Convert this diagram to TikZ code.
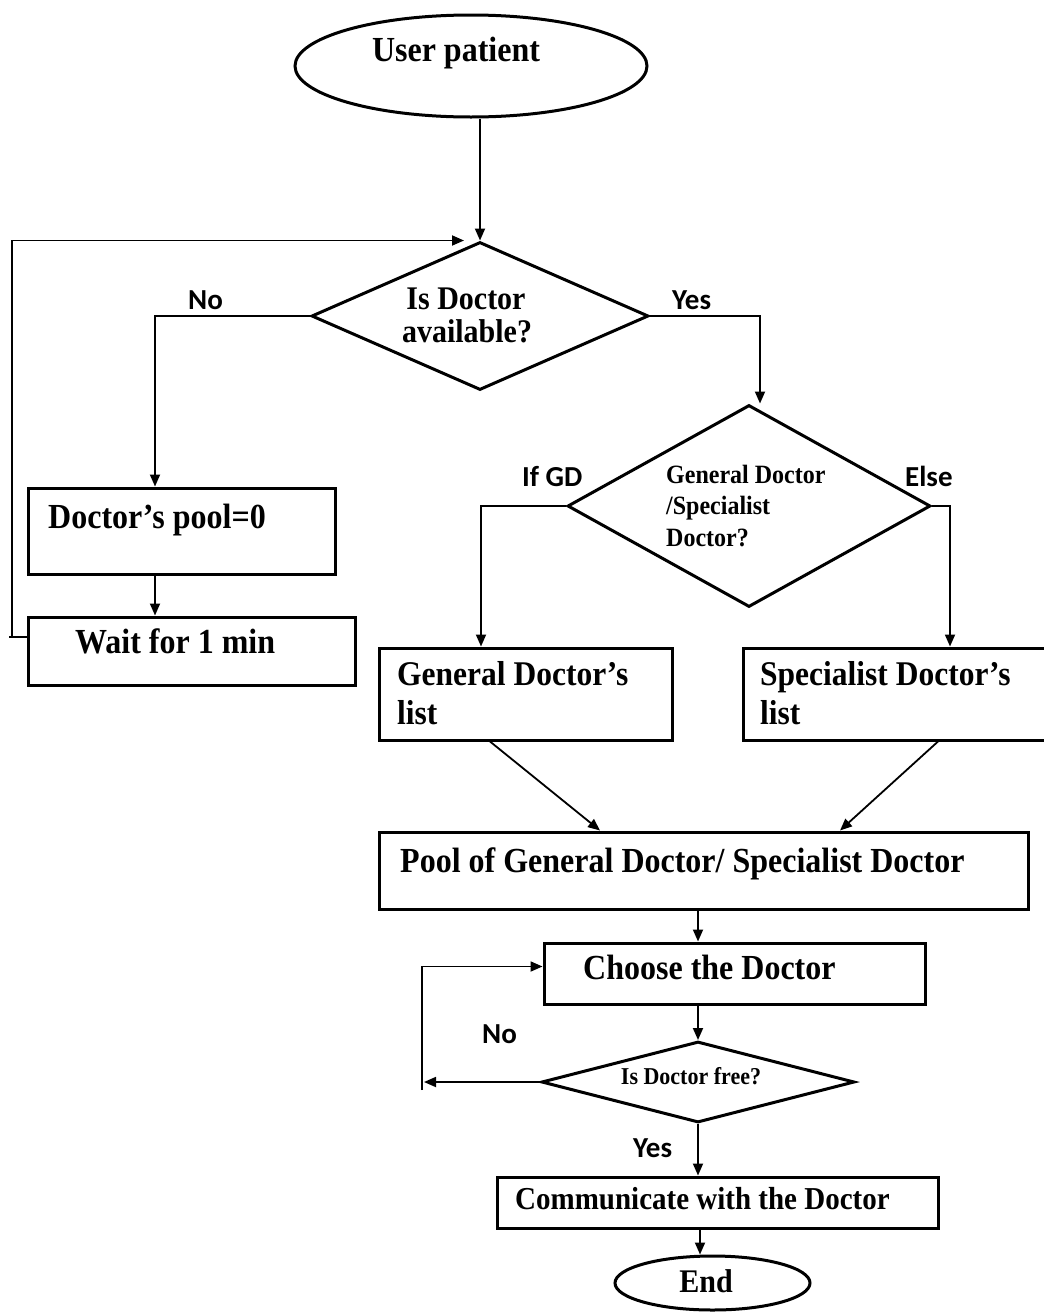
\documentclass[tikz,border=0pt]{standalone}
\usepackage{fontspec}
\usepackage{graphicx}
\setmainfont{Liberation Serif}
\newfontfamily\labfont{Carlito}
\usetikzlibrary{arrows.meta,shapes.geometric}
% the lettering of the chart is set slightly tall
\newcommand{\tall}[1]{\scalebox{1}[1.1]{#1}}

\begin{document}
\begin{tikzpicture}[x=1pt,y=-1pt,
  box/.style={draw,line width=3pt,rectangle,inner sep=0pt},
  dia/.style={draw,line width=3pt,diamond,inner sep=0pt},
  oval/.style={draw,line width=3pt,ellipse,inner sep=0pt},
  conn/.style={line width=1.8pt,-{Triangle[length=12pt,width=10pt]}},
  plain/.style={line width=1.8pt},
  txt/.style={font=\fontsize{32}{36}\selectfont\bfseries,inner sep=0pt,anchor=base west},
  ctxt/.style={txt,anchor=base},
  lab/.style={font=\labfont\fontsize{29}{32}\selectfont\bfseries,inner sep=0pt,anchor=base west}]

\useasboundingbox (0,0) rectangle (1044,1312);

% shapes
\node[oval,minimum width=352pt,minimum height=102pt] (user) at (471,66) {};
\node[dia,minimum width=337pt,minimum height=148pt] (d1) at (480,316) {};
\node[box,minimum width=307pt,minimum height=86pt] (pool0) at (181.5,531) {};
\node[box,minimum width=327pt,minimum height=68pt] (wait) at (191.5,651) {};
\node[dia,minimum width=363pt,minimum height=202pt] (d2) at (749,506) {};
\node[box,minimum width=293pt,minimum height=92pt] (gd) at (525.5,694) {};
\node[box,minimum width=307pt,minimum height=92pt] (sd) at (896.5,694) {};
\node[box,minimum width=649pt,minimum height=77pt] (poolgs) at (703.5,870.5) {};
\node[box,minimum width=381pt,minimum height=61pt] (choose) at (734.5,973.5) {};
\node[dia,minimum width=313pt,minimum height=81pt] (d3) at (698,1082) {};
\node[box,minimum width=441pt,minimum height=51pt] (comm) at (717.5,1202.5) {};
\node[oval,minimum width=195pt,minimum height=54pt] (endn) at (712.5,1283) {};

% texts
\node[ctxt] (tuser) at (456,61) {\tall{User patient}};
\node[ctxt,font=\fontsize{30}{34}\selectfont\bfseries] (td1a) at (466,309) {\tall{Is Doctor}};
\node[ctxt,font=\fontsize{30}{34}\selectfont\bfseries] (td1b) at (467,342) {\tall{available?}};
\node[txt] (tpool0) at (48,528) {\tall{Doctor’s pool=0}};
\node[txt] (twait) at (75,653) {\tall{Wait for 1 min}};
\node[txt,font=\fontsize{24}{28}\selectfont\bfseries] (td2a) at (666,483) {\tall{General Doctor}};
\node[txt,font=\fontsize{24}{28}\selectfont\bfseries] (td2b) at (666,514) {\tall{/Specialist}};
\node[txt,font=\fontsize{24}{28}\selectfont\bfseries] (td2c) at (666,546) {\tall{Doctor?}};
\node[txt,font=\fontsize{31.5}{36}\selectfont\bfseries] (tgda) at (397,685) {\tall{General Doctor’s}};
\node[txt,font=\fontsize{31.5}{36}\selectfont\bfseries] (tgdb) at (397,724) {\tall{list}};
\node[txt,font=\fontsize{31.5}{36}\selectfont\bfseries] (tsda) at (760,685) {\tall{Specialist Doctor’s}};
\node[txt,font=\fontsize{31.5}{36}\selectfont\bfseries] (tsdb) at (760,724) {\tall{list}};
\node[txt] (tpoolgs) at (400,872) {\tall{Pool of General Doctor/ Specialist Doctor}};
\node[txt] (tchoose) at (583,979) {\tall{Choose the Doctor}};
\node[ctxt,font=\fontsize{22}{26}\selectfont\bfseries] (td3) at (691,1084) {\tall{Is Doctor free?}};
\node[txt,font=\fontsize{29}{33}\selectfont\bfseries] (tcomm) at (515,1209) {\tall{Communicate with the Doctor}};
\node[ctxt,font=\fontsize{30}{34}\selectfont\bfseries] (tend) at (706,1292) {\tall{End}};

% branch labels
\node[lab] (lno1) at (188,309) {No};
\node[lab] (lyes1) at (672,309) {Yes};
\node[lab] (lifgd) at (522,486) {If GD};
\node[lab] (lelse) at (905,486) {Else};
\node[lab] (lno2) at (482,1043) {No};
\node[lab] (lyes2) at (633,1157) {Yes};

% connectors
\draw[conn] (user.south -| d1.north) -- (d1.north);
\coordinate (loopx) at (12,0);
\coordinate (waitout) at ([yshift=14pt]wait.west);
\draw[plain] (waitout) -- ([xshift=-3pt]loopx |- waitout);
\draw[conn] (loopx |- waitout) -- (loopx |- d1.north) -- ([xshift=-16pt]d1.north);
\draw[conn] (d1.west) -| ([xshift=-26.5pt]pool0.north);
\draw[conn] ([xshift=-26.5pt]pool0.south) -- ([xshift=-26.5pt]pool0.south |- wait.north);
\draw[conn] (d1.east) -| ([xshift=11pt]d2.north);
\draw[conn] (d2.west) -| ([xshift=-44.5pt]gd.north);
\draw[conn] (d2.east) -| ([xshift=53.5pt]sd.north);
\draw[conn] ([xshift=-35.5pt]gd.south) -- ([xshift=-103.5pt]poolgs.north);
\draw[conn] ([xshift=41.5pt]sd.south) -- ([xshift=136.5pt]poolgs.north);
\draw[conn] ([xshift=-5.5pt]poolgs.south) -- ([xshift=-5.5pt]poolgs.south |- choose.north);
\draw[conn] (choose.south -| d3.north) -- (d3.north);
\coordinate (nofoot) at (422,1090);
\draw[conn] (d3.west) -- ([xshift=2pt]nofoot |- d3.west);
\draw[conn] (nofoot) |- ([yshift=7pt]choose.west);
\draw[conn] (d3.south) -- (d3.south |- comm.north);
\draw[conn] ([xshift=-12.5pt]comm.south -| endn.north) -- ([xshift=-12.5pt]endn.north);

\end{tikzpicture}
\end{document}
